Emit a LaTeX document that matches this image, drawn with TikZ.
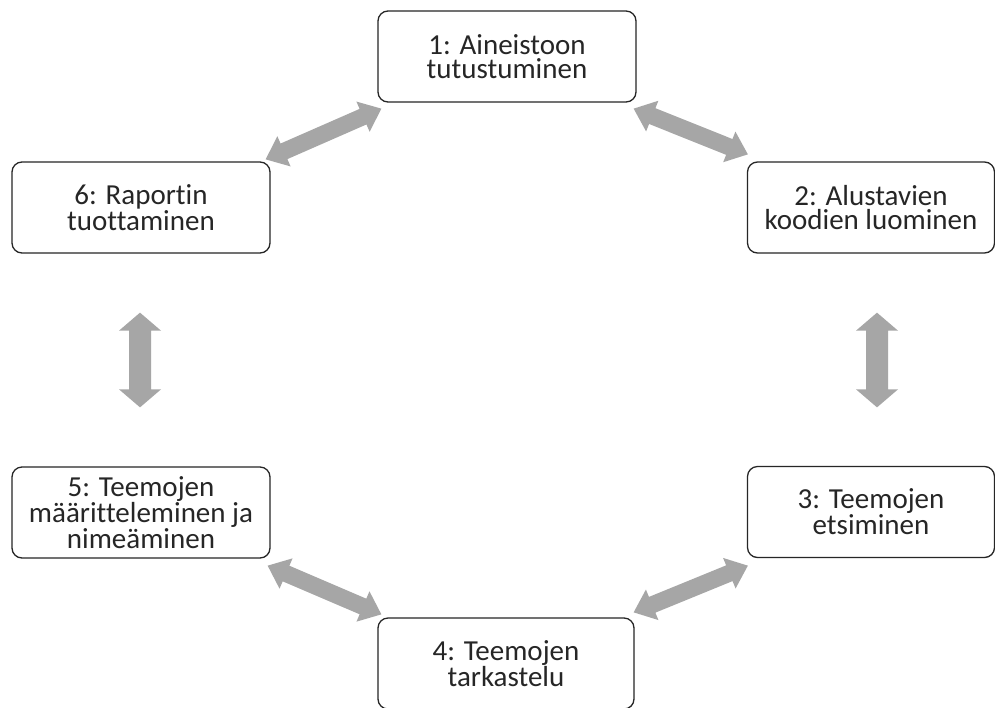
\documentclass[tikz,border=0pt]{standalone}
\usepackage{fontspec}
\setmainfont{Carlito}[Ligatures=NoCommon]
\usetikzlibrary{calc}
\definecolor{arrgray}{HTML}{A6A6A6}
\definecolor{txtgray}{HTML}{262626}
\newcommand\blockarrow[5]{%
  \fill[arrgray] (#1)
    -- ($(#1)!#5!(#2)!#4!90:(#2)$)
    -- ($(#1)!#5!(#2)!#3!90:(#2)$)
    -- ($(#2)!#5!(#1)!#3!-90:(#1)$)
    -- ($(#2)!#5!(#1)!#4!-90:(#1)$)
    -- (#2)
    -- ($(#2)!#5!(#1)!#4!90:(#1)$)
    -- ($(#2)!#5!(#1)!#3!90:(#1)$)
    -- ($(#1)!#5!(#2)!#3!-90:(#2)$)
    -- ($(#1)!#5!(#2)!#4!-90:(#2)$)
    -- cycle;}
\tikzset{
  stage/.style={draw=black!85, line width=1.3pt, rounded corners=10pt,
    align=center, font=\fontsize{29}{24.5}\selectfont, text=txtgray,
    inner sep=0pt, minimum height=91pt},
}
\begin{document}
\begin{tikzpicture}[x=1pt,y=-1pt]
\useasboundingbox (0,0) rectangle (995,707);
\clip (0,0) rectangle (995,707);
\fill[white] (0,0) rectangle (995,707);
\node[stage, minimum width=258pt] (n1) at (507,56.5) {1: Aineistoon\\tutustuminen};
\node[stage, minimum width=247pt] (n2) at (871,207.5) {2: Alustavien\\koodien luominen};
\node[stage, minimum width=247pt] (n3) at (871,512) {3: Teemojen\\etsiminen};
\node[stage, minimum width=256pt] (n4) at (506,663.5) {4: Teemojen\\tarkastelu};
\node[stage, minimum width=258pt] (n5) at (141,512.5) {5: Teemojen\\määritteleminen ja\\nimeäminen};
\node[stage, minimum width=258pt] (n6) at (141,207.5) {6: Raportin\\tuottaminen};
% connector end points
\coordinate (a16s) at ($(n6.north east)+(-5,-2)$);
\coordinate (a16e) at ($(n1.south west)+(4,6)$);
\coordinate (a12s) at ($(n1.south east)+(-3,6)$);
\coordinate (a12e) at ($(n2.north west)+(1,-7)$);
\coordinate (a23s) at ($(n2.south)+(6,59)$);
\coordinate (a23e) at ($(n3.north)+(6,-58.5)$);
\coordinate (a34s) at ($(n3.south west)+(1,7.5)$);
\coordinate (a34e) at ($(n4.north east)+(-1,-5)$);
\coordinate (a45s) at ($(n4.north west)+(4,-3)$);
\coordinate (a45e) at ($(n5.south east)+(-3,7)$);
\coordinate (a56s) at ($(n5.north)+(-1,-59)$);
\coordinate (a56e) at ($(n6.south)+(-1,59)$);
\blockarrow{a16s}{a16e}{8.5pt}{16.5pt}{20pt}
\blockarrow{a12s}{a12e}{8.5pt}{16.5pt}{20pt}
\blockarrow{a34s}{a34e}{8.5pt}{16.5pt}{20pt}
\blockarrow{a45s}{a45e}{8.5pt}{16.5pt}{20pt}
\blockarrow{a23s}{a23e}{11pt}{21pt}{18pt}
\blockarrow{a56s}{a56e}{11pt}{21pt}{18pt}
\end{tikzpicture}
\end{document}
